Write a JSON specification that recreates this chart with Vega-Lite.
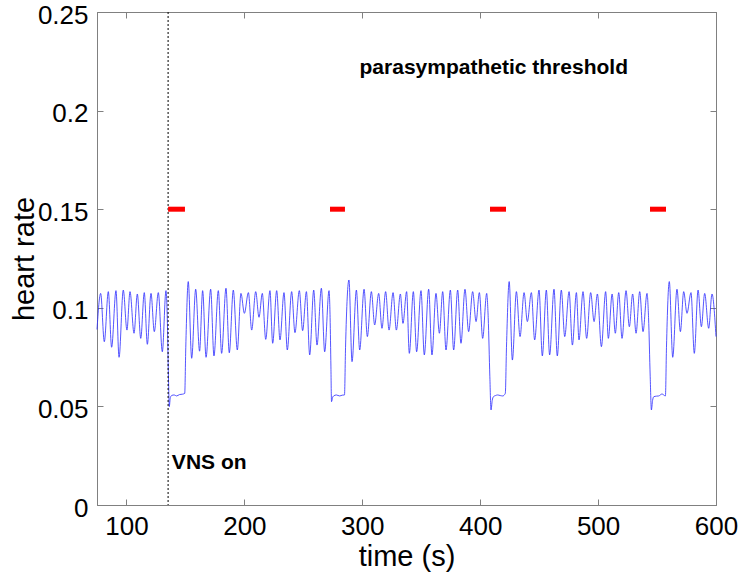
{
  "$schema": "https://vega.github.io/schema/vega-lite/v6.json",
  "width": 619,
  "height": 493,
  "autosize": {"type": "none"},
  "padding": {"left": 97, "top": 12, "right": 29, "bottom": 70},
  "background": "white",
  "config": {
    "view": {"stroke": "#808080", "strokeWidth": 1},
    "font": "Liberation Sans",
    "axis": {
      "grid": false,
      "domainColor": "#808080",
      "tickColor": "#808080",
      "tickSize": -6,
      "labelFont": "Liberation Sans",
      "labelFontSize": 26,
      "labelColor": "black",
      "titleFont": "Liberation Sans",
      "titleFontSize": 29,
      "titleFontWeight": "normal",
      "titleColor": "black"
    }
  },
  "datasets": {
    "hr": [
      {"t": 75, "hr": 0.089}, {"t": 78.1, "hr": 0.1073}, {"t": 81.2, "hr": 0.0828}, {"t": 84.6, "hr": 0.1082},
      {"t": 87.4, "hr": 0.08}, {"t": 91.1, "hr": 0.1087}, {"t": 93.7, "hr": 0.0749}, {"t": 97.3, "hr": 0.109},
      {"t": 100.4, "hr": 0.0887}, {"t": 103.0, "hr": 0.1082}, {"t": 106.4, "hr": 0.0871}, {"t": 109.2, "hr": 0.107},
      {"t": 112.1, "hr": 0.0845}, {"t": 115.1, "hr": 0.1077}, {"t": 117.7, "hr": 0.0815}, {"t": 120.8, "hr": 0.1073},
      {"t": 123.6, "hr": 0.0879}, {"t": 127.0, "hr": 0.1077}, {"t": 130.4, "hr": 0.0777}, {"t": 133.5, "hr": 0.1087},
      {"t": 134.6, "hr": 0.095}, {"t": 135.6, "hr": 0.065}, {"t": 136.3, "hr": 0.0499}, {"t": 137.2, "hr": 0.0545},
      {"t": 138.5, "hr": 0.0556}, {"t": 140.5, "hr": 0.0558}, {"t": 142.5, "hr": 0.0553}, {"t": 145, "hr": 0.056},
      {"t": 147.5, "hr": 0.0562}, {"t": 149.4, "hr": 0.0566}, {"t": 150.3, "hr": 0.08}, {"t": 152.4, "hr": 0.1133},
      {"t": 155.3, "hr": 0.0744}, {"t": 158.7, "hr": 0.1094}, {"t": 162.0, "hr": 0.078}, {"t": 164.6, "hr": 0.1087},
      {"t": 167.5, "hr": 0.0749}, {"t": 171.4, "hr": 0.1094}, {"t": 174.2, "hr": 0.0756}, {"t": 177.9, "hr": 0.1087},
      {"t": 180.7, "hr": 0.0769}, {"t": 184.4, "hr": 0.1099}, {"t": 187.2, "hr": 0.0772}, {"t": 190.6, "hr": 0.109},
      {"t": 194.0, "hr": 0.0786}, {"t": 197.1, "hr": 0.1073}, {"t": 200.0, "hr": 0.0972}, {"t": 203.4, "hr": 0.1077},
      {"t": 206.2, "hr": 0.0887}, {"t": 209.6, "hr": 0.1082}, {"t": 212.4, "hr": 0.0952}, {"t": 215.2, "hr": 0.1073},
      {"t": 218.1, "hr": 0.084}, {"t": 221.7, "hr": 0.1087}, {"t": 224.0, "hr": 0.082}, {"t": 227.4, "hr": 0.1087},
      {"t": 230.2, "hr": 0.0837}, {"t": 233.6, "hr": 0.1077}, {"t": 236.4, "hr": 0.0786}, {"t": 240.1, "hr": 0.1082},
      {"t": 242.9, "hr": 0.0874}, {"t": 246.6, "hr": 0.1087}, {"t": 249.4, "hr": 0.0884}, {"t": 252.6, "hr": 0.1082},
      {"t": 255.4, "hr": 0.0761}, {"t": 258.8, "hr": 0.109}, {"t": 261.6, "hr": 0.0811}, {"t": 265.3, "hr": 0.1099},
      {"t": 268.1, "hr": 0.0777}, {"t": 271.8, "hr": 0.1087}, {"t": 272.7, "hr": 0.095}, {"t": 273.4, "hr": 0.07},
      {"t": 273.9, "hr": 0.0524}, {"t": 274.8, "hr": 0.0545}, {"t": 275.7, "hr": 0.0553}, {"t": 278.0, "hr": 0.0558},
      {"t": 280.8, "hr": 0.0553}, {"t": 283.0, "hr": 0.0557}, {"t": 284.9, "hr": 0.0558}, {"t": 285.8, "hr": 0.08},
      {"t": 288.7, "hr": 0.1141}, {"t": 291.3, "hr": 0.0727}, {"t": 295.0, "hr": 0.109}, {"t": 297.8, "hr": 0.0786},
      {"t": 301.5, "hr": 0.1094}, {"t": 304.3, "hr": 0.0854}, {"t": 307.7, "hr": 0.1082}, {"t": 310.5, "hr": 0.0913},
      {"t": 313.9, "hr": 0.1073}, {"t": 316.7, "hr": 0.0896}, {"t": 319.8, "hr": 0.1082}, {"t": 322.7, "hr": 0.0887},
      {"t": 326.1, "hr": 0.1077}, {"t": 328.9, "hr": 0.0887}, {"t": 332.3, "hr": 0.107}, {"t": 334.5, "hr": 0.0921},
      {"t": 337.6, "hr": 0.1082}, {"t": 339.9, "hr": 0.0769}, {"t": 343.3, "hr": 0.1082}, {"t": 346.1, "hr": 0.0777},
      {"t": 349.8, "hr": 0.1087}, {"t": 352.6, "hr": 0.0761}, {"t": 356.3, "hr": 0.1094}, {"t": 359.1, "hr": 0.0761},
      {"t": 362.5, "hr": 0.1073}, {"t": 365.4, "hr": 0.0871}, {"t": 368.2, "hr": 0.1082}, {"t": 371.0, "hr": 0.0786},
      {"t": 374.7, "hr": 0.109}, {"t": 377.5, "hr": 0.0786}, {"t": 380.9, "hr": 0.109}, {"t": 383.7, "hr": 0.082},
      {"t": 387.1, "hr": 0.1094}, {"t": 390.2, "hr": 0.0879}, {"t": 393.6, "hr": 0.1082}, {"t": 396.5, "hr": 0.093},
      {"t": 399.3, "hr": 0.1077}, {"t": 402.1, "hr": 0.0845}, {"t": 405.5, "hr": 0.1073}, {"t": 406.8, "hr": 0.095},
      {"t": 408.2, "hr": 0.065}, {"t": 409.2, "hr": 0.0482}, {"t": 410.2, "hr": 0.053}, {"t": 411.2, "hr": 0.0549},
      {"t": 413.0, "hr": 0.0555}, {"t": 414.8, "hr": 0.0558}, {"t": 417.0, "hr": 0.0555}, {"t": 419.1, "hr": 0.0553},
      {"t": 421.3, "hr": 0.0566}, {"t": 422.3, "hr": 0.08}, {"t": 424.6, "hr": 0.1133}, {"t": 427.3, "hr": 0.0735},
      {"t": 430.7, "hr": 0.1082}, {"t": 433.8, "hr": 0.0854}, {"t": 437.2, "hr": 0.1077}, {"t": 440.0, "hr": 0.093},
      {"t": 443.4, "hr": 0.1077}, {"t": 446.2, "hr": 0.0837}, {"t": 449.9, "hr": 0.109}, {"t": 452.7, "hr": 0.0756},
      {"t": 456.1, "hr": 0.109}, {"t": 458.9, "hr": 0.0761}, {"t": 462.6, "hr": 0.1094}, {"t": 465.4, "hr": 0.0756},
      {"t": 468.8, "hr": 0.109}, {"t": 471.7, "hr": 0.0854}, {"t": 475.4, "hr": 0.1082}, {"t": 478.2, "hr": 0.0811},
      {"t": 481.6, "hr": 0.1077}, {"t": 483.8, "hr": 0.0837}, {"t": 487.2, "hr": 0.1082}, {"t": 490.3, "hr": 0.0845},
      {"t": 493.7, "hr": 0.1077}, {"t": 496.6, "hr": 0.093}, {"t": 499.4, "hr": 0.107}, {"t": 502.8, "hr": 0.0803},
      {"t": 506.4, "hr": 0.1082}, {"t": 508.7, "hr": 0.0845}, {"t": 511.9, "hr": 0.107}, {"t": 514.6, "hr": 0.0871},
      {"t": 517.5, "hr": 0.1077}, {"t": 520.3, "hr": 0.0845}, {"t": 523.7, "hr": 0.1087}, {"t": 526.5, "hr": 0.0904},
      {"t": 529.3, "hr": 0.107}, {"t": 532.2, "hr": 0.0871}, {"t": 535.3, "hr": 0.1082}, {"t": 538.1, "hr": 0.0879},
      {"t": 541.5, "hr": 0.1073}, {"t": 542.8, "hr": 0.095}, {"t": 544.2, "hr": 0.065}, {"t": 545.2, "hr": 0.0482},
      {"t": 546.2, "hr": 0.053}, {"t": 547.2, "hr": 0.0549}, {"t": 549.5, "hr": 0.0552}, {"t": 551.4, "hr": 0.0553},
      {"t": 554.2, "hr": 0.0563}, {"t": 557.1, "hr": 0.0553}, {"t": 558.0, "hr": 0.08}, {"t": 560.4, "hr": 0.1133},
      {"t": 563.3, "hr": 0.0749}, {"t": 566.9, "hr": 0.1094}, {"t": 569.8, "hr": 0.0879}, {"t": 572.6, "hr": 0.1082},
      {"t": 575.4, "hr": 0.0972}, {"t": 578.8, "hr": 0.1077}, {"t": 581.6, "hr": 0.0769}, {"t": 584.8, "hr": 0.109},
      {"t": 587.6, "hr": 0.0904}, {"t": 590.4, "hr": 0.1073}, {"t": 593.8, "hr": 0.0896}, {"t": 596.6, "hr": 0.107},
      {"t": 600, "hr": 0.0854}
    ],
    "threshold": [
      {"start": 135.3, "end": 149.6, "level": 0.15},
      {"start": 272.6, "end": 285.3, "level": 0.15},
      {"start": 408.3, "end": 421.9, "level": 0.15},
      {"start": 544.0, "end": 557.6, "level": 0.15}
    ],
    "vns": [{"t": 135.3}],
    "label1": [{"t": 411.5, "hr": 0.2215, "text": "parasympathetic threshold"}],
    "label2": [{"t": 138.5, "hr": 0.0213, "text": "VNS on"}]
  },
  "layer": [
    {
      "data": {"name": "hr"},
      "mark": {"type": "line", "color": "#2a2aff", "strokeWidth": 0.8, "interpolate": "monotone"},
      "encoding": {
        "x": {
          "field": "t", "type": "quantitative",
          "scale": {"domain": [75, 600], "nice": false, "zero": false},
          "axis": {"orient": "bottom", "title": "time (s)", "values": [100, 200, 300, 400, 500, 600], "format": "d", "labelPadding": 14, "titlePadding": 3, "labelFlush": false, "labelOverlap": false}
        },
        "y": {
          "field": "hr", "type": "quantitative",
          "scale": {"domain": [0, 0.25], "nice": false},
          "axis": {"orient": "left", "title": "heart rate", "values": [0, 0.05, 0.1, 0.15, 0.2, 0.25], "format": ".2~f", "labelPadding": 15, "labelOffset": 3, "titlePadding": -2, "labelFlush": false, "labelOverlap": false}
        }
      }
    },
    {
      "data": {"name": "vns"},
      "mark": {"type": "rule", "color": "black", "strokeWidth": 1, "strokeDash": [2, 2]},
      "encoding": {
        "x": {"field": "t", "type": "quantitative", "axis": {"orient": "top", "title": null, "labels": false, "values": [100, 200, 300, 400, 500, 600]}}
      }
    },
    {
      "data": {"name": "threshold"},
      "mark": {"type": "rule", "color": "#ff0000", "strokeWidth": 5},
      "encoding": {
        "x": {"field": "start", "type": "quantitative", "axis": null},
        "x2": {"field": "end"},
        "y": {"field": "level", "type": "quantitative", "axis": {"orient": "right", "title": null, "labels": false, "values": [0, 0.05, 0.1, 0.15, 0.2, 0.25]}}
      }
    },
    {
      "data": {"name": "label1"},
      "mark": {"type": "text", "font": "Liberation Sans", "fontSize": 21, "fontWeight": "bold", "align": "center", "baseline": "middle", "color": "black"},
      "encoding": {
        "x": {"field": "t", "type": "quantitative", "axis": null},
        "y": {"field": "hr", "type": "quantitative", "axis": null},
        "text": {"field": "text"}
      }
    },
    {
      "data": {"name": "label2"},
      "mark": {"type": "text", "font": "Liberation Sans", "fontSize": 21, "fontWeight": "bold", "align": "left", "baseline": "middle", "color": "black"},
      "encoding": {
        "x": {"field": "t", "type": "quantitative", "axis": null},
        "y": {"field": "hr", "type": "quantitative", "axis": null},
        "text": {"field": "text"}
      }
    }
  ],
  "resolve": {"axis": {"x": "independent", "y": "independent"}}
}
